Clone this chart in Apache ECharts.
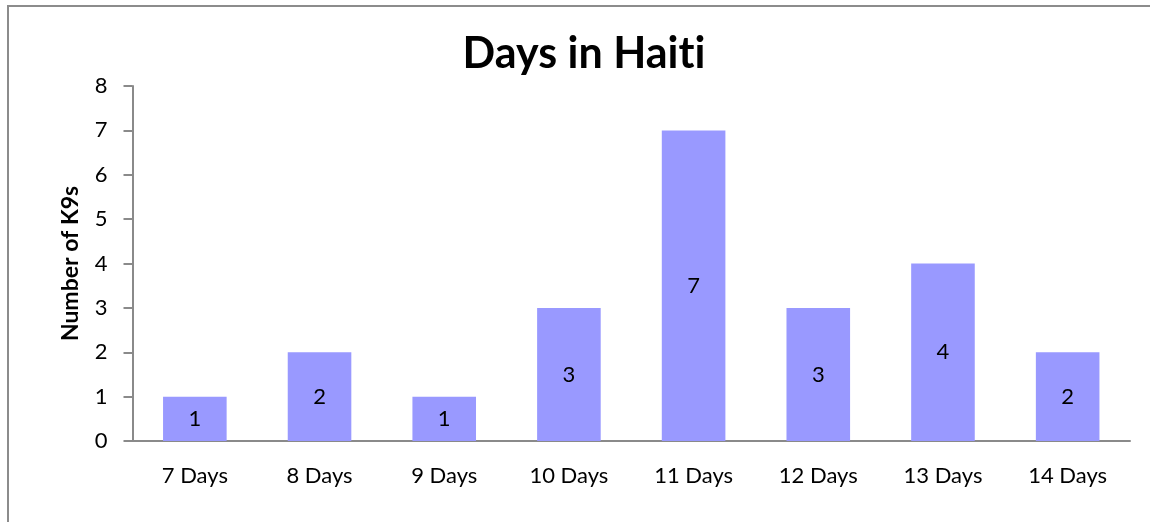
<!DOCTYPE html>
<html>
<head>
<meta charset="utf-8">
<title>Days in Haiti</title>
<script src="https://cdn.jsdelivr.net/npm/echarts@6/dist/echarts.min.js"></script>
<style>
  html, body { margin: 0; padding: 0; background: #fff; }
  #chart { width: 1150px; height: 522px; }
</style>
</head>
<body>
<div id="chart"></div>
<script>
// Length of stay in Haiti, and how many K9s stayed that long
const categories = ['7 Days', '8 Days', '9 Days', '10 Days', '11 Days', '12 Days', '13 Days', '14 Days'];
const k9Counts = [1, 2, 1, 3, 7, 3, 4, 2];
const yTicks = [0, 1, 2, 3, 4, 5, 6, 7, 8];

const FONT = 'Lato, "Open Sans", "Noto Sans", sans-serif';
const AXIS_GRAY = '#8a8a8a';

const chart = echarts.init(document.getElementById('chart'), null, { renderer: 'canvas' });

chart.setOption({
  animation: false,
  backgroundColor: '#ffffff',
  textStyle: { fontFamily: FONT, color: '#000' },
  graphic: [{
    type: 'rect',
    shape: { x: 8, y: 6, width: 1300, height: 700 },
    style: { fill: 'none', stroke: '#8c8c8c', lineWidth: 2 },
    silent: true
  }],
  title: {
    // zero-width non-joiner keeps "t" and "i" as separate glyphs
    text: 'Days in Hait\u200Ci',
    left: 579,
    top: 28,
    textAlign: 'center',
    textStyle: { fontFamily: FONT, fontSize: 43, fontWeight: 'bold', color: '#000' }
  },
  grid: { left: 132.5, right: 20, top: 86, bottom: 81, containLabel: false },
  xAxis: {
    type: 'category',
    data: categories,
    axisLine: { lineStyle: { color: AXIS_GRAY, width: 2 } },
    axisTick: { show: false },
    axisLabel: { fontFamily: FONT, fontSize: 22, color: '#000', margin: 24 },
    splitLine: { show: false }
  },
  yAxis: {
    type: 'value',
    min: yTicks[0],
    max: yTicks[yTicks.length - 1],
    interval: 1,
    name: 'Number of K9s',
    nameLocation: 'middle',
    nameGap: 50,
    nameTextStyle: { fontFamily: FONT, fontSize: 23, fontWeight: 'bold', color: '#000' },
    axisLine: { show: true, lineStyle: { color: AXIS_GRAY, width: 2 } },
    axisTick: { show: true, inside: false, length: 9, lineStyle: { color: AXIS_GRAY, width: 2 } },
    axisLabel: { fontFamily: FONT, fontSize: 22, color: '#000', margin: 25 },
    splitLine: { show: false }
  },
  series: [{
    type: 'bar',
    data: k9Counts,
    barCategoryGap: '49%',
    itemStyle: { color: '#9999ff' },
    label: {
      show: true,
      position: 'inside',
      fontFamily: FONT,
      fontSize: 22,
      color: '#000'
    }
  }]
});
</script>
</body>
</html>
